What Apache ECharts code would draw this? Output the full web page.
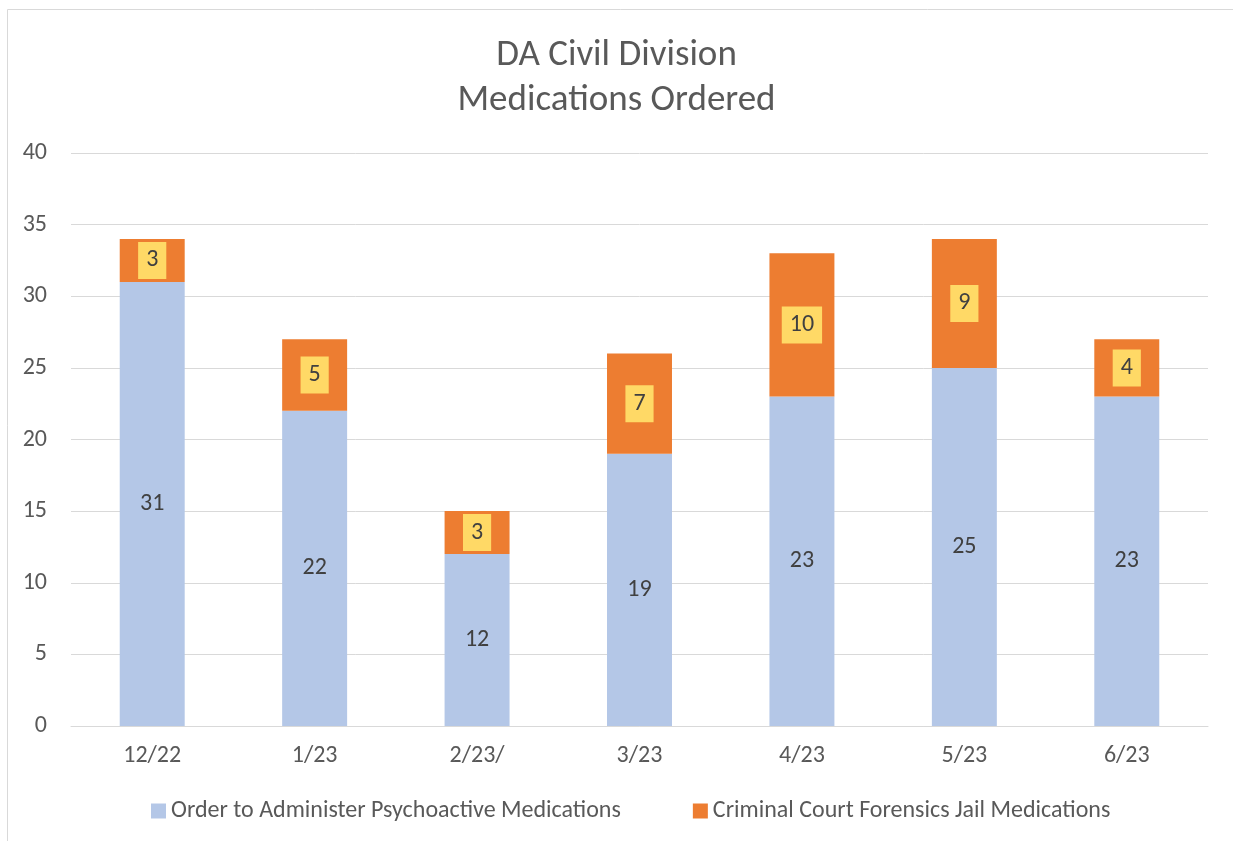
<!DOCTYPE html>
<html>
<head>
<meta charset="utf-8">
<script src="https://cdn.jsdelivr.net/npm/echarts@6/dist/echarts.min.js"></script>
<style>
  html, body { margin: 0; padding: 0; background: #fff; }
  #chart { width: 1233px; height: 841px; }
</style>
</head>
<body>
<div id="chart"></div>
<script>
const months = ["12/22", "1/23", "2/23/", "3/23", "4/23", "5/23", "6/23"];
const orderAdminister = [31, 22, 12, 19, 23, 25, 23];
const criminalCourt = [3, 5, 3, 7, 10, 9, 4];
const yTicks = [0, 5, 10, 15, 20, 25, 30, 35, 40];

const myChart = echarts.init(document.getElementById("chart"));
const font = "Calibri, Carlito, 'Open Sans', 'Liberation Sans', sans-serif";

const option = {
  animation: false,
  textStyle: { fontFamily: font },
  graphic: [
    {
      type: "rect",
      shape: { x: 7.5, y: 9.5, width: 1240, height: 850 },
      style: { fill: "none", stroke: "#d9d9d9", lineWidth: 1 },
      silent: true,
    },
  ],
  title: {
    text: "DA Civil Division\nMedications Ordered",
    left: "center",
    top: 28,
    textStyle: {
      fontFamily: font,
      fontSize: 37,
      fontWeight: "normal",
      color: "#595959",
      lineHeight: 45,
    },
  },
  legend: {
    bottom: 13,
    left: 146,
    itemWidth: 15,
    itemHeight: 15,
    itemGap: 72,
    itemStyle: { borderWidth: 0 },
    icon: "rect",
    textStyle: { fontFamily: font, fontSize: 24, color: "#595959" },
    data: ["Order to Administer Psychoactive Medications", "Criminal Court Forensics Jail Medications"],
  },
  grid: { left: 71, right: 25, top: 153, bottom: 115 },
  xAxis: {
    type: "category",
    data: months,
    axisLine: { lineStyle: { color: "#d9d9d9" } },
    axisTick: { show: false },
    axisLabel: { color: "#595959", fontSize: 24, margin: 18, fontFamily: font },
  },
  yAxis: {
    type: "value",
    min: yTicks[0],
    max: yTicks[yTicks.length - 1],
    interval: 5,
    axisLine: { show: false },
    axisTick: { show: false },
    axisLabel: { color: "#595959", fontSize: 24, margin: 24, fontFamily: font },
    splitLine: { lineStyle: { color: "#d9d9d9" } },
  },
  series: [
    {
      name: "Order to Administer Psychoactive Medications",
      type: "bar",
      stack: "total",
      data: orderAdminister,
      barWidth: "40%",
      itemStyle: { color: "#B4C7E7" },
      label: {
        show: true,
        position: "inside",
        color: "#404040",
        fontSize: 24,
        fontFamily: font,
      },
    },
    {
      name: "Criminal Court Forensics Jail Medications",
      type: "bar",
      stack: "total",
      data: criminalCourt,
      itemStyle: { color: "#ED7D31" },
      label: {
        show: true,
        position: "inside",
        color: "#404040",
        fontSize: 24,
        fontFamily: font,
        backgroundColor: "#FFD966",
        padding: [7, 8, 6, 8],
      },
    },
  ],
};
myChart.setOption(option);
window.addEventListener("resize", function () {
  myChart.resize();
});
</script>
</body>
</html>
